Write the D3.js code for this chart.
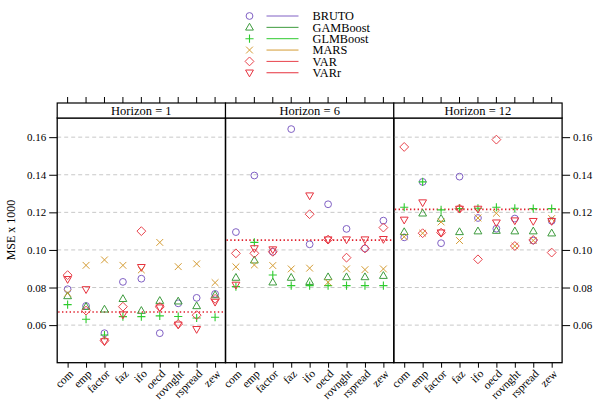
<!DOCTYPE html>
<html>
<head>
<meta charset="utf-8">
<script src="https://cdn.jsdelivr.net/npm/d3@7"></script>
<style>
  body { margin: 0; background: #fff; }
  svg text { font-family: "Liberation Serif", "Times New Roman", Times, serif; }
</style>
</head>
<body>
<svg id="chart" width="603" height="415"></svg>
<script>
const indicators = ["com", "emp", "factor", "faz", "ifo", "oecd", "rovnght", "rspread", "zew"];
const horizons = [1, 6, 12];
const methods = ["BRUTO", "GAMBoost", "GLMBoost", "MARS", "VAR", "VARr"];
const yTicks = [0.06, 0.08, 0.10, 0.12, 0.14, 0.16];

// MSE x 1000, one row per horizon (1, 6, 12), columns in indicator order
const BRUTO = [
  [0.0791, 0.0702, 0.0557, 0.0830, 0.0847, 0.0557, 0.0716, 0.0745, 0.0766],
  [0.1095, 0.1396, 0.0990, 0.1643, 0.1030, 0.1243, 0.1112, 0.1008, 0.1156],
  [0.1067, 0.1362, 0.1036, 0.1390, 0.1170, 0.1113, 0.1167, 0.1050, 0.1155]
];
const GAMBoost = [
  [0.0755, 0.0698, 0.0684, 0.0740, 0.0677, 0.0730, 0.0727, 0.0702, 0.0760],
  [0.0853, 0.0945, 0.0828, 0.0853, 0.0831, 0.0856, 0.0856, 0.0856, 0.0863],
  [0.1096, 0.1195, 0.1167, 0.1096, 0.1100, 0.1103, 0.1100, 0.1100, 0.1089]
];
const GLMBoost = [
  [0.0709, 0.0631, 0.0547, 0.0645, 0.0645, 0.0649, 0.0646, 0.0638, 0.0642],
  [0.0805, 0.1040, 0.0867, 0.0810, 0.0810, 0.0810, 0.0810, 0.0810, 0.0810],
  [0.1227, 0.1362, 0.1213, 0.1220, 0.1222, 0.1227, 0.1222, 0.1220, 0.1220]
];
const MARS = [
  [0.0770, 0.0918, 0.0947, 0.0918, 0.0894, 0.1040, 0.0911, 0.0926, 0.0826],
  [0.0910, 0.0920, 0.0917, 0.0899, 0.0903, 0.0828, 0.0899, 0.0895, 0.0899],
  [0.1070, 0.1089, 0.1149, 0.1050, 0.1170, 0.1195, 0.1021, 0.1050, 0.1167]
];
const VAR = [
  [0.0866, 0.0677, 0.0517, 0.0698, 0.1100, 0.0697, 0.0606, 0.0653, 0.0740],
  [0.0982, 0.0982, 0.0990, null, 0.1190, 0.1055, 0.0959, 0.1008, 0.1119],
  [0.1548, 0.1089, 0.1092, 0.1220, 0.0950, 0.1587, 0.1021, 0.1053, 0.0986]
];
const VARr = [
  [0.0844, 0.0790, 0.0513, 0.0656, 0.0908, 0.0693, 0.0602, 0.0578, 0.0723],
  [0.0814, 0.1008, 0.1002, null, 0.1289, 0.1055, 0.1055, 0.1055, 0.1057],
  [0.1160, 0.1252, 0.1092, 0.1218, 0.1218, 0.1145, 0.1156, 0.1153, 0.1153]
];
// red dotted reference level per horizon
const refLevel = [0.0670, 0.1052, 0.1216];

const series = [BRUTO, GAMBoost, GLMBoost, MARS, VAR, VARr];
const colors = ["#8060c4", "#3d9b3d", "#2fcb2f", "#d49c34", "#e8434c", "#e6323e"];
const shapes = ["circle", "triangle", "plus", "cross", "diamond", "triangleDown"];
const serif = "'Liberation Serif', 'Times New Roman', Times, serif";

const svg = d3.select("#chart");

const panelTop = 118, panelBottom = 362.7, stripH = 15;
const panelLeft = 57.2, panelW = 168.3;

const y = d3.scaleLinear().domain([0.040, 0.1702]).range([panelBottom, panelTop]);

function symbol(g, shape, color) {
  const s = 3.4;
  if (shape === "circle") {
    g.append("circle").attr("r", s).attr("fill", "none").attr("stroke", color);
  } else if (shape === "triangle") {
    g.append("path").attr("d", `M0,${-s * 1.2}L${s * 1.15},${s * 0.8}L${-s * 1.15},${s * 0.8}Z`)
      .attr("fill", "none").attr("stroke", color);
  } else if (shape === "triangleDown") {
    g.append("path").attr("d", `M0,${s * 1.2}L${s * 1.15},${-s * 0.8}L${-s * 1.15},${-s * 0.8}Z`)
      .attr("fill", "none").attr("stroke", color);
  } else if (shape === "diamond") {
    g.append("path").attr("d", `M0,${-s * 1.3}L${s * 1.3},0L0,${s * 1.3}L${-s * 1.3},0Z`)
      .attr("fill", "none").attr("stroke", color);
  } else if (shape === "plus") {
    g.append("path").attr("d", `M${-s * 1.2},0H${s * 1.2}M0,${-s * 1.2}V${s * 1.2}`)
      .attr("stroke", color).attr("stroke-width", 1.1);
  } else if (shape === "cross") {
    g.append("path").attr("d", `M${-s},${-s}L${s},${s}M${-s},${s}L${s},${-s}`)
      .attr("stroke", color);
  }
}

// legend
const legend = svg.append("g");
methods.forEach((m, i) => {
  const ly = 16 + i * 11.35;
  const g = legend.append("g").attr("transform", `translate(249.5,${ly})`);
  symbol(g, shapes[i], colors[i]);
  legend.append("line").attr("x1", 266.5).attr("x2", 298.5).attr("y1", ly).attr("y2", ly)
    .attr("stroke", colors[i]).attr("stroke-width", 1);
  legend.append("text").attr("x", 312.5).attr("y", ly + 4.2)
    .attr("font-family", serif).attr("font-size", 12.3).text(m);
});

horizons.forEach((h, p) => {
  const x0 = panelLeft + p * panelW;
  const x = d3.scalePoint().domain(indicators).range([x0, x0 + panelW]).padding(0.565);
  const g = svg.append("g");

  // grid
  g.selectAll(".grid").data(yTicks).join("line")
    .attr("x1", x0).attr("x2", x0 + panelW)
    .attr("y1", d => y(d)).attr("y2", d => y(d))
    .attr("stroke", "#c8c8c8").attr("stroke-dasharray", "4,3");

  // reference level
  g.append("line")
    .attr("x1", x0 + 1).attr("x2", x0 + panelW - 1)
    .attr("y1", y(refLevel[p])).attr("y2", y(refLevel[p]))
    .attr("stroke", "#e0202c").attr("stroke-width", 1.6).attr("stroke-dasharray", "1.4,2.4");

  // points
  series.forEach((s, k) => {
    s[p].forEach((v, j) => {
      if (v == null) return;
      const pg = g.append("g").attr("transform", `translate(${x(indicators[j])},${y(v)})`);
      symbol(pg, shapes[k], colors[k]);
    });
  });

  // frame and strip
  g.append("rect").attr("x", x0).attr("y", panelTop).attr("width", panelW)
    .attr("height", panelBottom - panelTop).attr("fill", "none").attr("stroke", "#000").attr("stroke-width", 1.3);
  g.append("rect").attr("x", x0).attr("y", panelTop - stripH).attr("width", panelW)
    .attr("height", stripH).attr("fill", "#fff").attr("stroke", "#000").attr("stroke-width", 1.2);
  g.append("text").attr("x", x0 + panelW / 2).attr("y", panelTop - 3.5)
    .attr("text-anchor", "middle").attr("font-family", serif).attr("font-size", 12.5).text(`Horizon = ${h}`);

  // top ticks
  g.selectAll(".tt").data(indicators).join("line")
    .attr("x1", d => x(d)).attr("x2", d => x(d))
    .attr("y1", panelTop - stripH).attr("y2", panelTop - stripH - 6)
    .attr("stroke", "#000");

  // bottom axis
  const bx = d3.axisBottom(x).tickSize(5).tickPadding(2);
  const ax = g.append("g").attr("transform", `translate(0,${panelBottom})`).call(bx);
  ax.attr("font-family", serif);
  ax.select(".domain").remove();
  ax.selectAll("text")
    .attr("font-family", serif).attr("font-size", 11.5)
    .attr("text-anchor", "end").attr("dy", "0.35em")
    .attr("transform", "translate(3,9) rotate(-45)")
    .attr("x", 0).attr("y", 0);

  // y axes
  if (p === 0 || p === 2) {
    const axis = p === 0 ? d3.axisLeft(y) : d3.axisRight(y);
    const ay = g.append("g").attr("transform", `translate(${p === 0 ? x0 : x0 + panelW},0)`)
      .call(axis.tickValues(yTicks).tickFormat(d3.format(".2f")).tickSize(8).tickPadding(3));
    ay.attr("font-family", serif);
    ay.select(".domain").remove();
    ay.selectAll("text").attr("font-family", serif).attr("font-size", 11);
  }
});

svg.append("text")
  .attr("transform", "translate(15,230) rotate(-90)")
  .attr("text-anchor", "middle").attr("font-family", serif).attr("font-size", 12).text("MSE x 1000");
</script>
</body>
</html>
